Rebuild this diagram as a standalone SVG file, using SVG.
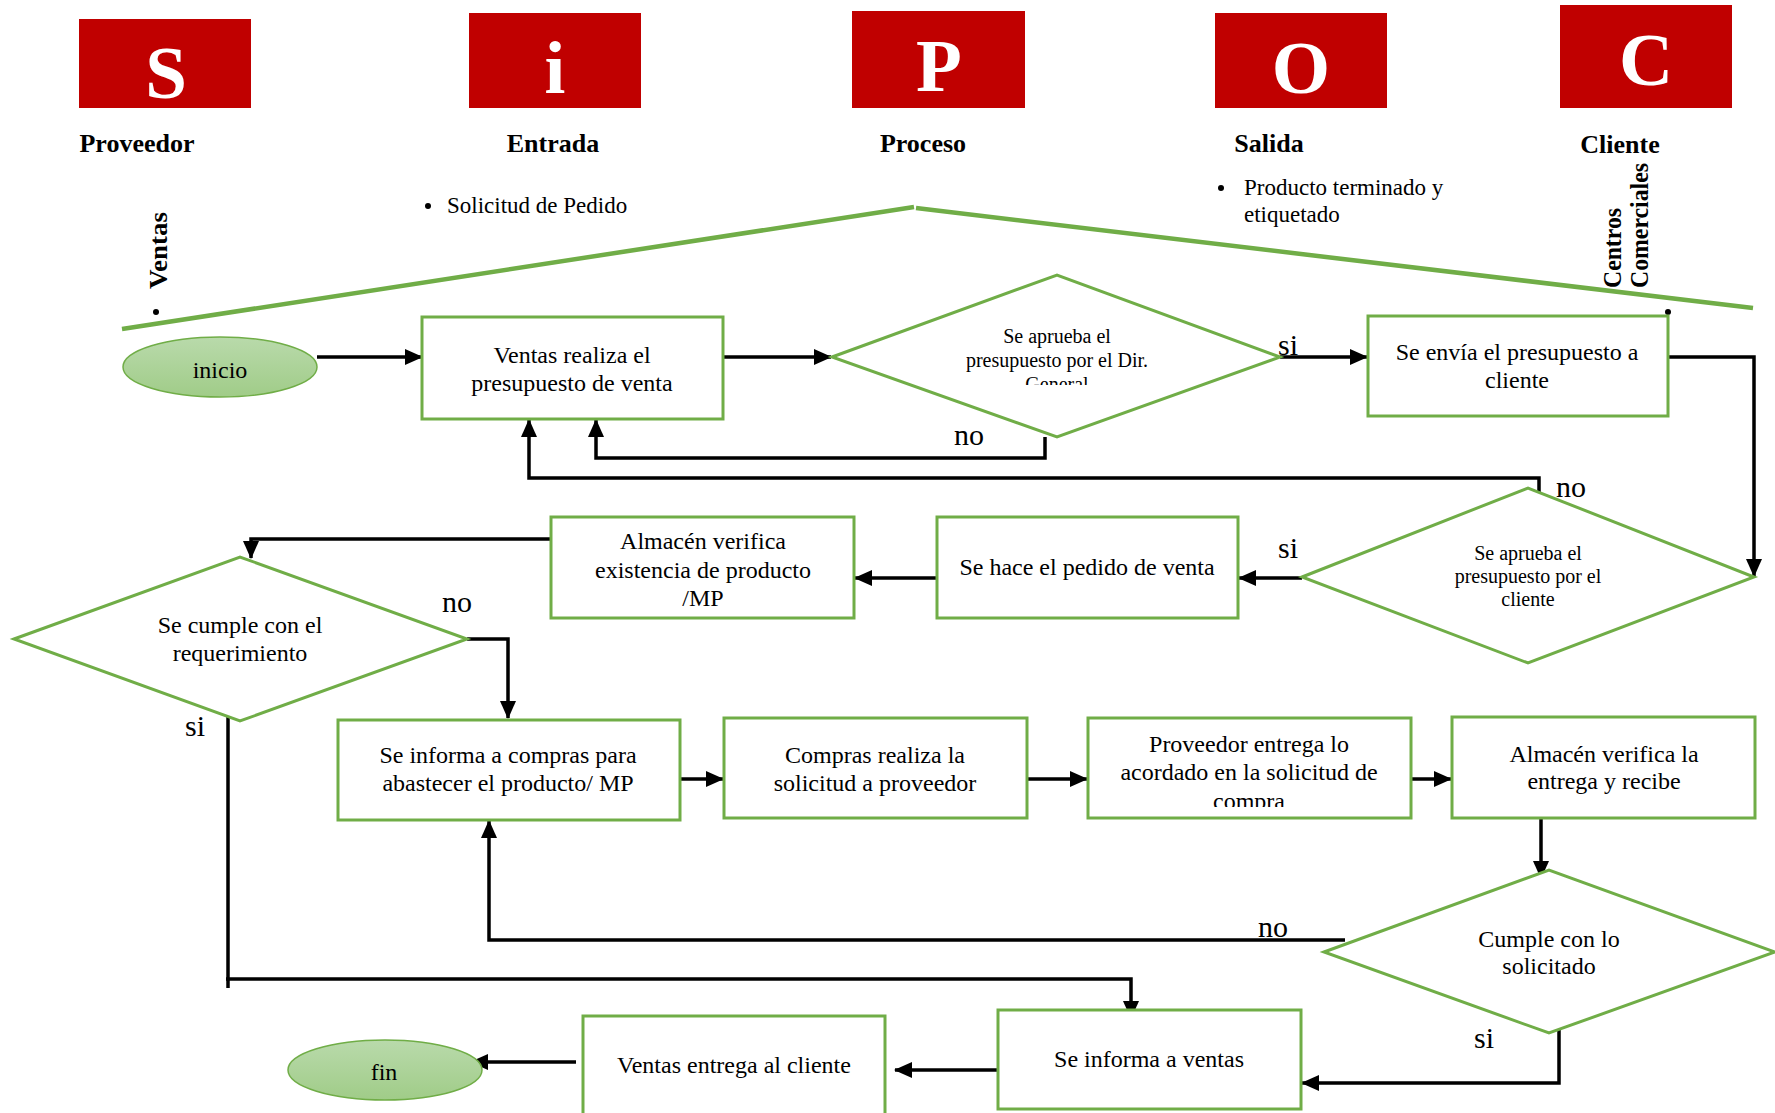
<svg xmlns="http://www.w3.org/2000/svg" width="1775" height="1113" viewBox="0 0 1775 1113">
<style>
.hdr{fill:#C00000}
.ltr{font-family:"Liberation Serif","Times New Roman",serif;font-weight:bold;fill:#fff;text-anchor:middle;font-size:75px}
.lbl{font-family:"Liberation Serif","Times New Roman",serif;font-weight:bold;fill:#000;text-anchor:middle;font-size:26px}
.bul{font-family:"Liberation Serif","Times New Roman",serif;fill:#000;font-size:23px}
.vt{font-family:"Liberation Serif","Times New Roman",serif;font-weight:bold;fill:#000;font-size:25px}
.box{fill:#fff;stroke:#70AD47;stroke-width:3}
.dia{fill:#fff;stroke:#70AD47;stroke-width:3}
.ell{fill:url(#eg);stroke:#70AD47;stroke-width:1.5}
.t{font-family:"Liberation Serif","Times New Roman",serif;fill:#000;text-anchor:middle;font-size:24px}
.ts{font-family:"Liberation Serif","Times New Roman",serif;fill:#000;text-anchor:middle;font-size:20px}
.yn{font-family:"Liberation Serif","Times New Roman",serif;fill:#000;font-size:30px}
.c{fill:none;stroke:#000;stroke-width:3.5}
.ca{fill:none;stroke:#000;stroke-width:3.5;marker-end:url(#ah)}
.roof{fill:none;stroke:#70AD47;stroke-width:4.5}
</style>
<defs>
<linearGradient id="eg" x1="0" y1="0" x2="0" y2="1">
<stop offset="0" stop-color="#B9DAAB"/>
<stop offset="1" stop-color="#A0CC88"/>
</linearGradient>
<marker id="ah" markerUnits="userSpaceOnUse" markerWidth="18" markerHeight="16" viewBox="0 0 18 16" refX="17" refY="8" orient="auto">
<path d="M0,0 L18,8 L0,16 Z" fill="#000"/>
</marker>
<clipPath id="cp1"><rect x="900" y="270" width="320" height="115"/></clipPath>
<clipPath id="cp2"><rect x="1090" y="720" width="320" height="87"/></clipPath>
</defs>
<rect width="1775" height="1113" fill="#fff"/>

<g id="header-S"><rect class="hdr" x="79" y="19" width="172" height="89"/><text class="ltr" x="166" y="98">S</text><text class="lbl" x="137" y="152">Proveedor</text></g>
<g id="header-i"><rect class="hdr" x="469" y="13" width="172" height="95"/><text class="ltr" x="555" y="93">i</text><text class="lbl" x="553" y="152">Entrada</text></g>
<g id="header-P"><rect class="hdr" x="852" y="11" width="173" height="97"/><text class="ltr" x="939" y="91">P</text><text class="lbl" x="923" y="152">Proceso</text></g>
<g id="header-O"><rect class="hdr" x="1215" y="13" width="172" height="95"/><text class="ltr" x="1301" y="93">O</text><text class="lbl" x="1269" y="152">Salida</text></g>
<g id="header-C"><rect class="hdr" x="1560" y="5" width="172" height="103"/><text class="ltr" x="1646" y="85">C</text><text class="lbl" x="1620" y="153">Cliente</text></g>

<g id="inputs"><circle cx="428" cy="206" r="3"/><text class="bul" x="447" y="213">Solicitud de Pedido</text></g>
<g id="outputs"><circle cx="1221" cy="188" r="3"/><text class="bul" x="1244" y="195">Producto terminado y</text><text class="bul" x="1244" y="222">etiquetado</text></g>
<g id="supplier-ventas"><text class="vt" transform="translate(167,289) rotate(-90)" textLength="77" lengthAdjust="spacingAndGlyphs">Ventas</text><circle cx="156" cy="312" r="3"/></g>
<g id="client-centros"><text class="vt" transform="translate(1621,288) rotate(-90)" textLength="80" lengthAdjust="spacingAndGlyphs">Centros</text><text class="vt" transform="translate(1648,288) rotate(-90)" textLength="125" lengthAdjust="spacingAndGlyphs">Comerciales</text><circle cx="1668" cy="312" r="3"/></g>

<g id="roof"><path class="roof" d="M122,329 L914,207"/><path class="roof" d="M916,208 L1753,308"/></g>

<g id="connectors">
<path class="ca" d="M317,357 H422"/>
<path class="ca" d="M723,357 H831"/>
<path class="ca" d="M1280,357 H1367"/>
<path class="ca" d="M1668,357 H1754 V576"/>
<path class="ca" d="M1045,437 V458 H596 V420"/>
<path class="ca" d="M1539,497 V478 H529 V420"/>
<path class="ca" d="M1302,578 H1239"/>
<path class="ca" d="M937,578 H855"/>
<path class="ca" d="M551,539 H251 V558"/>
<path class="ca" d="M467,639 H508 V718"/>
<path class="c" d="M228,712 V988"/>
<path class="ca" d="M226,979 H1131 V1018"/>
<path class="ca" d="M680,779 H723"/>
<path class="ca" d="M1027,779 H1087"/>
<path class="ca" d="M1411,779 H1451"/>
<path class="ca" d="M1541,818 V878"/>
<path class="ca" d="M1345,940 H489 V821"/>
<path class="ca" d="M1559,1030 V1083 H1302"/>
<path class="ca" d="M998,1070 H895"/>
<path class="ca" d="M576,1062 H471"/>
</g>

<g id="labels">
<text class="yn" x="1278" y="355">si</text>
<text class="yn" x="954" y="445">no</text>
<text class="yn" x="1556" y="497">no</text>
<text class="yn" x="1278" y="558">si</text>
<text class="yn" x="442" y="612">no</text>
<text class="yn" x="185" y="736">si</text>
<text class="yn" x="1258" y="937">no</text>
<text class="yn" x="1474" y="1048">si</text>
</g>

<g id="inicio"><ellipse class="ell" cx="220" cy="367" rx="97" ry="30"/><text class="t" x="220" y="378">inicio</text></g>
<g id="ventas-presupuesto"><rect class="box" x="422" y="317" width="301" height="102"/><text class="t" x="572" y="363">Ventas realiza el</text><text class="t" x="572" y="391">presupuesto de venta</text></g>
<g id="aprueba-dir"><path class="dia" d="M832,357 L1057,275 L1280,357 L1057,437 Z"/><text class="ts" x="1057" y="343">Se aprueba el</text><text class="ts" x="1057" y="367">presupuesto por el Dir.</text><text class="ts" x="1057" y="391" clip-path="url(#cp1)">General</text></g>
<g id="envia-presupuesto"><rect class="box" x="1368" y="316" width="300" height="100"/><text class="t" x="1517" y="360">Se envía el presupuesto a</text><text class="t" x="1517" y="388">cliente</text></g>
<g id="aprueba-cliente"><path class="dia" d="M1302,577 L1528,488 L1754,577 L1528,663 Z"/><text class="ts" x="1528" y="560">Se aprueba el</text><text class="ts" x="1528" y="583">presupuesto por el</text><text class="ts" x="1528" y="606">cliente</text></g>
<g id="pedido-venta"><rect class="box" x="937" y="517" width="301" height="101"/><text class="t" x="1087" y="575">Se hace el pedido de venta</text></g>
<g id="almacen-existencia"><rect class="box" x="551" y="517" width="303" height="101"/><text class="t" x="703" y="549">Almacén verifica</text><text class="t" x="703" y="578">existencia de producto</text><text class="t" x="703" y="606">/MP</text></g>
<g id="cumple-requerimiento"><path class="dia" d="M14,639 L240,557 L467,639 L240,721 Z"/><text class="t" x="240" y="633">Se cumple con el</text><text class="t" x="240" y="661">requerimiento</text></g>
<g id="informa-compras"><rect class="box" x="338" y="720" width="342" height="100"/><text class="t" x="508" y="763">Se informa a compras para</text><text class="t" x="508" y="791">abastecer el producto/ MP</text></g>
<g id="compras-solicitud"><rect class="box" x="724" y="718" width="303" height="100"/><text class="t" x="875" y="763">Compras realiza la</text><text class="t" x="875" y="791">solicitud a proveedor</text></g>
<g id="proveedor-entrega"><rect class="box" x="1088" y="718" width="323" height="100"/><text class="t" x="1249" y="752">Proveedor entrega lo</text><text class="t" x="1249" y="780">acordado en la solicitud de</text><text class="t" x="1249" y="809" clip-path="url(#cp2)">compra</text></g>
<g id="almacen-recibe"><rect class="box" x="1452" y="717" width="303" height="101"/><text class="t" x="1604" y="762">Almacén verifica la</text><text class="t" x="1604" y="789">entrega y recibe</text></g>
<g id="cumple-solicitado"><path class="dia" d="M1324,952 L1549,870 L1775,952 L1549,1033 Z"/><text class="t" x="1549" y="947">Cumple con lo</text><text class="t" x="1549" y="974">solicitado</text></g>
<g id="informa-ventas"><rect class="box" x="998" y="1010" width="303" height="99"/><text class="t" x="1149" y="1067">Se informa a ventas</text></g>
<g id="ventas-entrega"><rect class="box" x="583" y="1016" width="302" height="110"/><text class="t" x="734" y="1073">Ventas entrega al cliente</text></g>
<g id="fin"><ellipse class="ell" cx="385" cy="1070" rx="97" ry="30"/><text class="t" x="384" y="1080">fin</text></g>
</svg>
